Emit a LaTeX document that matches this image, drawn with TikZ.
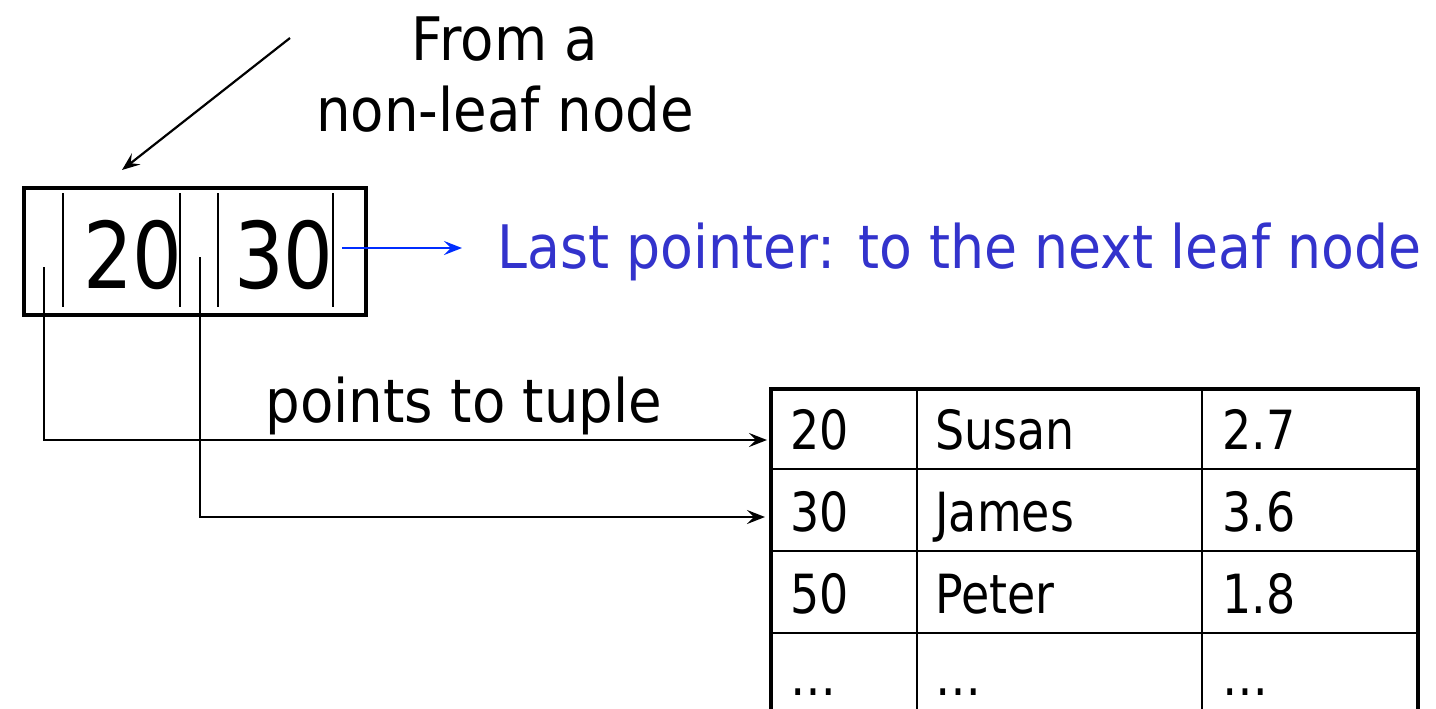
\documentclass[tikz,border=0pt]{standalone}
\usepackage{fontspec}
\setmainfont[FakeStretch=0.85]{DejaVu Sans}
\newfontfamily\labelfont[FakeStretch=0.91]{DejaVu Sans}
\newfontfamily\lastfont[FakeStretch=0.895]{DejaVu Sans}
\usepackage{tikz}
\usetikzlibrary{positioning,arrows.meta}

\definecolor{ptrblue}{RGB}{0,45,255}
\definecolor{txtblue}{RGB}{51,51,204}

\tikzset{
  label text/.style={font=\labelfont\fontsize{30}{35.5}\selectfont, inner sep=0pt},
  key text/.style={font=\fontsize{46}{50}\selectfont, inner sep=0pt, anchor=base},
  cell text/.style={font=\fontsize{27}{30}\selectfont, inner sep=0pt, anchor=base west},
  bar/.style={line width=1.1pt},
  link/.style={->, line width=1.1pt},
}

\begin{document}
\begin{tikzpicture}[x=0.5pt, y=-0.5pt, >={Stealth[length=9pt, width=7pt, inset=3.5pt]}]

\useasboundingbox (0,0) rectangle (1436,708);

% the leaf node
\node [draw, line width=1.6pt, minimum width=171pt, minimum height=63.5pt, inner sep=0pt] (leaf) at (195,251.5) {};

\foreach \x in {63,180,218,333}
  \draw [bar] (\x,193) -- (\x,307);

\node [key text] (key-1) at (133,288) {20};
\node [key text] (key-2) at (284,288) {30};

\coordinate (ptr-1) at (44,267);
\coordinate (ptr-2) at (200,257);
\coordinate (ptr-next) at (342,248);

% label on top
\node [label text, align=center, anchor=north] (from) at (505,16) {From a\\non-leaf node};
\coordinate (from-end) at (122,170);
\draw [link] (290,38) -- (from-end);

% last pointer
\node [label text, font=\lastfont\fontsize{30}{35.5}\selectfont, anchor=base west, text=txtblue] (last) at (497,268) {Last pointer: to the next leaf node};
\coordinate (next-end) at (462,248);
\draw [link, ptrblue] (ptr-next) -- (next-end);

% the table
\coordinate (tbl) at (771,389);
\foreach \y in {469,551,633}
  \draw [line width=1.1pt] (771,\y) -- (1418,\y);
\foreach \x in {917,1202}
  \draw [line width=1.1pt] (\x,389) -- (\x,720);
\draw [line width=2pt] (771,720) -- (tbl) -- (1418,389) -- (1418,720);

\foreach \k/\n/\g [count=\r] in {20/Susan/2.7,30/James/3.6,50/Peter/1.8,\dots/\dots/\dots} {
  \node [cell text] (cell-\r-1) at (790,429+82*\r-82+20) {\k};
  \node [cell text] (cell-\r-2) at (935,429+82*\r-82+20) {\n};
  \node [cell text] (cell-\r-3) at (1222,429+82*\r-82+20) {\g};
}

% pointers to tuples
\coordinate (tup-1) at (767,440);
\coordinate (tup-2) at (765,517);
\node [label text, anchor=base] (tuple) at (464,422) {points to tuple};
\draw [link] (ptr-1) |- (tup-1);
\draw [link] (ptr-2) |- (tup-2);

\end{tikzpicture}
\end{document}
